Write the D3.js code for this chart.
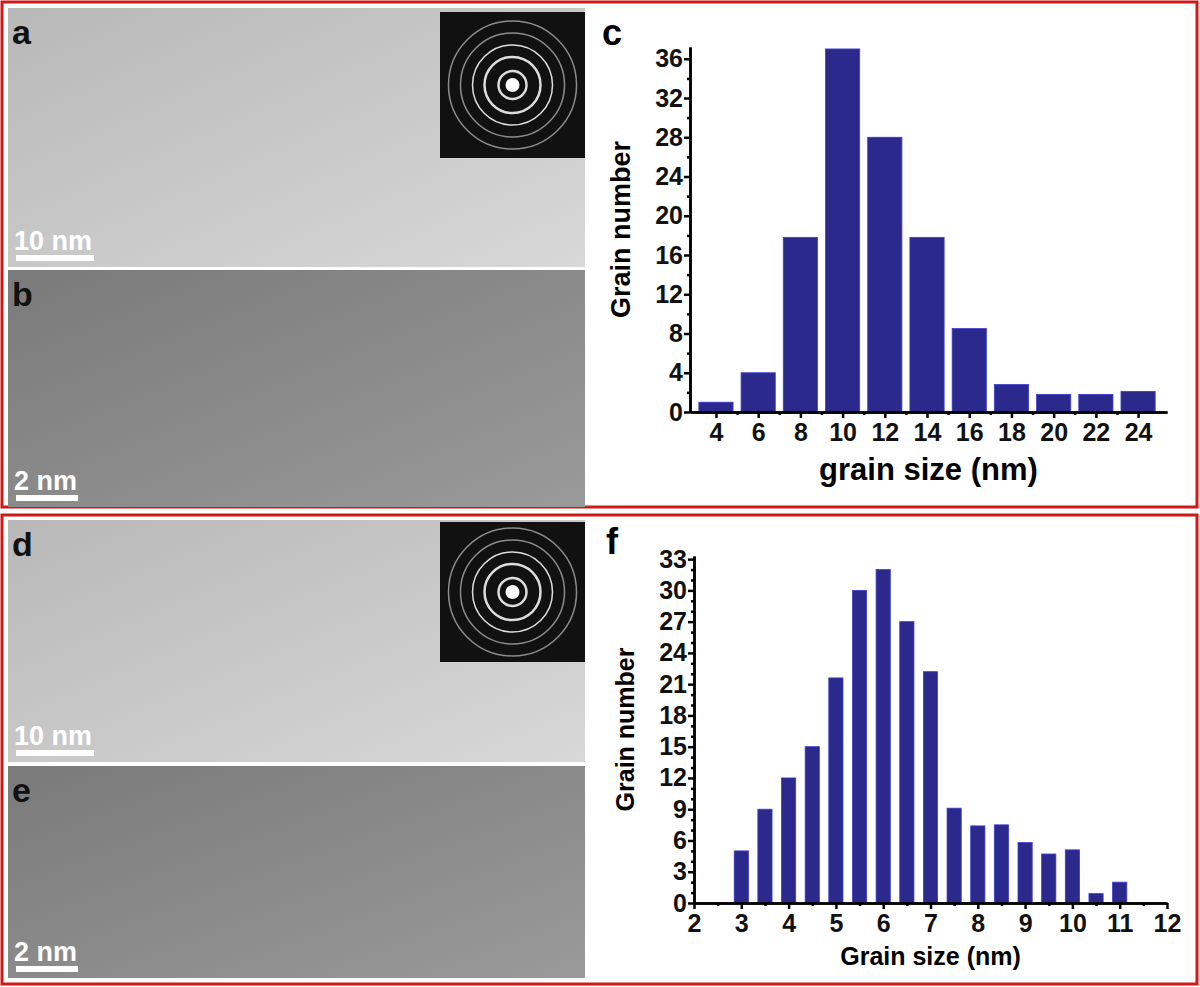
<!DOCTYPE html>
<html><head><meta charset="utf-8">
<script src="https://cdn.jsdelivr.net/npm/d3@7"></script>
<style>body{margin:0;background:#fff}svg{display:block}text{font-family:"Liberation Sans",Arial,sans-serif;font-weight:bold}
.tick text{font-family:"Liberation Sans Narrow","Liberation Sans",sans-serif !important;font-size:25px !important;font-weight:bold}</style>
</head><body><svg id="c" width="1200" height="987"></svg>
<script>
const sizesC=[4,6,8,10,12,14,16,18,20,22,24];
const countsC=[1,4,17.8,37,28,17.8,8.5,2.8,1.8,1.8,2.1];
const ticksCy=[0,4,8,12,16,20,24,28,32,36];
const sizesF=[3,3.5,4,4.5,5,5.5,6,6.5,7,7.5,8,8.5,9,9.5,10,10.5,11];
const countsF=[5,9,12,15,21.6,30,32,27,22.2,9.1,7.4,7.5,5.8,4.7,5.1,0.9,2];
const ticksFy=[0,3,6,9,12,15,18,21,24,27,30,33];
const ticksFx=[2,3,4,5,6,7,8,9,10,11,12];
const svg=d3.select("#c");
const red="#d01818", bar="#2b2a8c";
svg.append("rect").attr("x",2).attr("y",2).attr("width",1195).attr("height",505).attr("fill","none").attr("stroke",red).attr("stroke-width",3);
svg.append("rect").attr("x",2).attr("y",515).attr("width",1195).attr("height",469).attr("fill","none").attr("stroke",red).attr("stroke-width",3);
const defs=svg.append("defs");
function grad(id,c1,c2){const g=defs.append("linearGradient").attr("id",id).attr("x1",0).attr("y1",0).attr("x2",1).attr("y2",1);
g.append("stop").attr("offset",0).attr("stop-color",c1);g.append("stop").attr("offset",1).attr("stop-color",c2);}
grad("g1","#b8b8b8","#d8d8d8");grad("g2","#7a7a7a","#9a9a9a");
const imgs=[{x:8,y:8,w:577,h:259,f:"url(#g1)",l:"a",s:"10 nm",sw:78},{x:8,y:270,w:577,h:237,f:"url(#g2)",l:"b",s:"2 nm",sw:62},
{x:8,y:520,w:577,h:242,f:"url(#g1)",l:"d",s:"10 nm",sw:78},{x:8,y:766,w:577,h:212,f:"url(#g2)",l:"e",s:"2 nm",sw:62}];
imgs.forEach(d=>{svg.append("rect").attr("x",d.x).attr("y",d.y).attr("width",d.w).attr("height",d.h).attr("fill",d.f);
svg.append("text").attr("x",d.x+4).attr("y",d.y+36).attr("font-size",34).attr("fill","#111").text(d.l);
svg.append("text").attr("x",d.x+6).attr("y",d.y+d.h-17).attr("font-size",27).attr("fill","#fff").text(d.s);
svg.append("rect").attr("x",d.x+8).attr("y",d.y+d.h-12).attr("width",d.sw).attr("height",6).attr("fill","#fff");});
[[440,12,145,146],[440,522,145,140]].forEach(([x,y,w,h])=>{svg.append("rect").attr("x",x).attr("y",y).attr("width",w).attr("height",h).attr("fill","#111");
const cx=x+w/2,cy=y+h/2;[14,28,40,52,64].forEach((r,i)=>svg.append("circle").attr("cx",cx).attr("cy",cy).attr("r",r).attr("fill","none").attr("stroke","#ddd").attr("stroke-width",i<2?2.5:1.5).attr("opacity",i<3?1:0.6));
svg.append("circle").attr("cx",cx).attr("cy",cy).attr("r",7).attr("fill","#fff");});

function chart(o){
 const g=svg.append("g");
 const x=d3.scaleLinear().domain(o.xd).range([o.x0,o.x1]);
 const y=d3.scaleLinear().domain(o.yd).range([o.y0,o.y1]);
 g.selectAll(".b").data(o.vals).join("rect").attr("x",(d,i)=>x(o.xs[i]-o.bw/2)).attr("width",x(o.bw)-x(0))
  .attr("y",d=>y(d)).attr("height",d=>y(0)-y(d)).attr("fill",bar).attr("stroke","#3b3bd0").attr("stroke-width",0.8);
 g.append("g").attr("transform",`translate(${o.x0},0)`).call(d3.axisLeft(y).tickValues(o.yt).tickSize(6).tickPadding(1).tickSizeOuter(0));
 g.append("g").attr("transform",`translate(${o.x0},0)`).call(d3.axisLeft(y).tickValues(o.ym).tickSize(3).tickFormat("").tickSizeOuter(0));
 const xa=g.append("g").attr("transform",`translate(0,${o.y0})`).call(d3.axisBottom(x).tickValues(o.xt).tickSize(6).tickSizeOuter(0));
 g.append("g").attr("transform",`translate(0,${o.y0})`).call(d3.axisBottom(x).tickValues(o.xm).tickSize(3).tickFormat("").tickSizeOuter(0));
 g.selectAll(".domain,.tick line").attr("stroke","#000").attr("stroke-width",2.5);
 g.selectAll(".tick text").attr("fill","#111");
 xa.selectAll(".tick text").attr("dy","0.8em");
 g.append("text").attr("x",(o.x0+o.x1)/2).attr("y",o.y0+o.xlOff).attr("text-anchor","middle").attr("font-size",o.xlSize).text(o.xl);
 g.append("text").attr("transform",`translate(${o.x0-60},${(o.y0+o.y1)/2}) rotate(-90)`).attr("text-anchor","middle").attr("font-size",o.ylSize).text("Grain number");
 g.append("text").attr("x",o.x0-88).attr("y",o.y1-2).attr("font-size",36).text(o.lab);
}
chart({xd:[2.77,25.37],yd:[0,37.2],x0:690,x1:1167,y0:412,y1:47,xs:sizesC,vals:countsC,bw:1.62,
 yt:ticksCy,ym:d3.range(2,37,4),xt:sizesC,xm:d3.range(5,25,2),xl:"grain size (nm)",xlSize:31,xlOff:68,ylSize:27,lab:"c"});
chart({xd:[2,12],yd:[0,33.3],x0:694,x1:1167,y0:903,y1:556,xs:sizesF,vals:countsF,bw:0.3,
 yt:ticksFy,ym:d3.range(0,33,1).filter(v=>v%3),xt:ticksFx,xm:d3.range(2.5,12,1),xl:"Grain size (nm)",xlSize:25,xlOff:62,ylSize:25,lab:"f"});
</script></body></html>
